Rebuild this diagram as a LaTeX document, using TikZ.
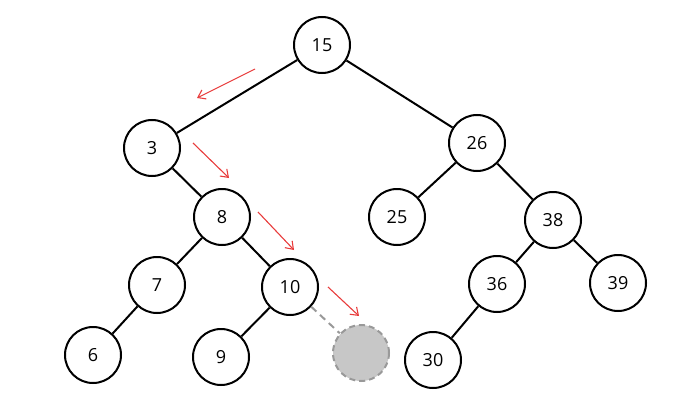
\documentclass[tikz,border=0pt]{standalone}
\usepackage{fontspec}
\setmainfont{Open Sans}
\usetikzlibrary{arrows.meta}
\definecolor{arrred}{RGB}{232,60,60}
\begin{document}
\begin{tikzpicture}[x=1pt,y=-1pt,
  tn/.style={circle,draw=black,line width=2pt,minimum size=56pt,inner sep=0pt,fill=white,font=\fontsize{18}{18}\selectfont},
  gn/.style={circle,draw=black!40,dash pattern=on 6pt off 4pt,line width=2pt,minimum size=56pt,inner sep=0pt,fill=black!22},
  edge/.style={line width=2pt},
  dedge/.style={line width=2pt,draw=black!40,dash pattern=on 7pt off 5pt},
  rarr/.style={draw=arrred,line width=1.1pt,-{Straight Barb[length=7pt,width=10pt]}}]
\useasboundingbox (0,0) rectangle (676,409);
\node[tn] (n15) at (322,45) {15};
\node[tn] (n3) at (152,148) {3};
\node[tn] (n26) at (477,143) {26};
\node[tn] (n8) at (222,217) {8};
\node[tn] (n25) at (397,217) {25};
\node[tn] (n38) at (553,220) {38};
\node[tn] (n7) at (157,285) {7};
\node[tn] (n10) at (290,287) {10};
\node[tn] (n36) at (497,284) {36};
\node[tn] (n39) at (618,283) {39};
\node[tn] (n6) at (93,355) {6};
\node[tn] (n9) at (221,357) {9};
\node[gn] (ng) at (361,353) {};
\node[tn] (n30) at (433,360) {30};
\draw[edge] (n15) -- (n3);
\draw[edge] (n15) -- (n26);
\draw[edge] (n3) -- (n8);
\draw[edge] (n8) -- (n7);
\draw[edge] (n8) -- (n10);
\draw[edge] (n7) -- (n6);
\draw[edge] (n10) -- (n9);
\draw[dedge] (n10) -- (ng);
\draw[edge] (n26) -- (n25);
\draw[edge] (n26) -- (n38);
\draw[edge] (n38) -- (n36);
\draw[edge] (n38) -- (n39);
\draw[edge] (n36) -- (n30);
\coordinate (a1s) at (255,69); \coordinate (a1e) at (197,98);
\coordinate (a2s) at (193,143); \coordinate (a2e) at (229,178);
\coordinate (a3s) at (258,212); \coordinate (a3e) at (294,250);
\coordinate (a4s) at (328,287); \coordinate (a4e) at (359,316);
\draw[rarr] (a1s) -- (a1e);
\draw[rarr] (a2s) -- (a2e);
\draw[rarr] (a3s) -- (a3e);
\draw[rarr] (a4s) -- (a4e);
\end{tikzpicture}
\end{document}
